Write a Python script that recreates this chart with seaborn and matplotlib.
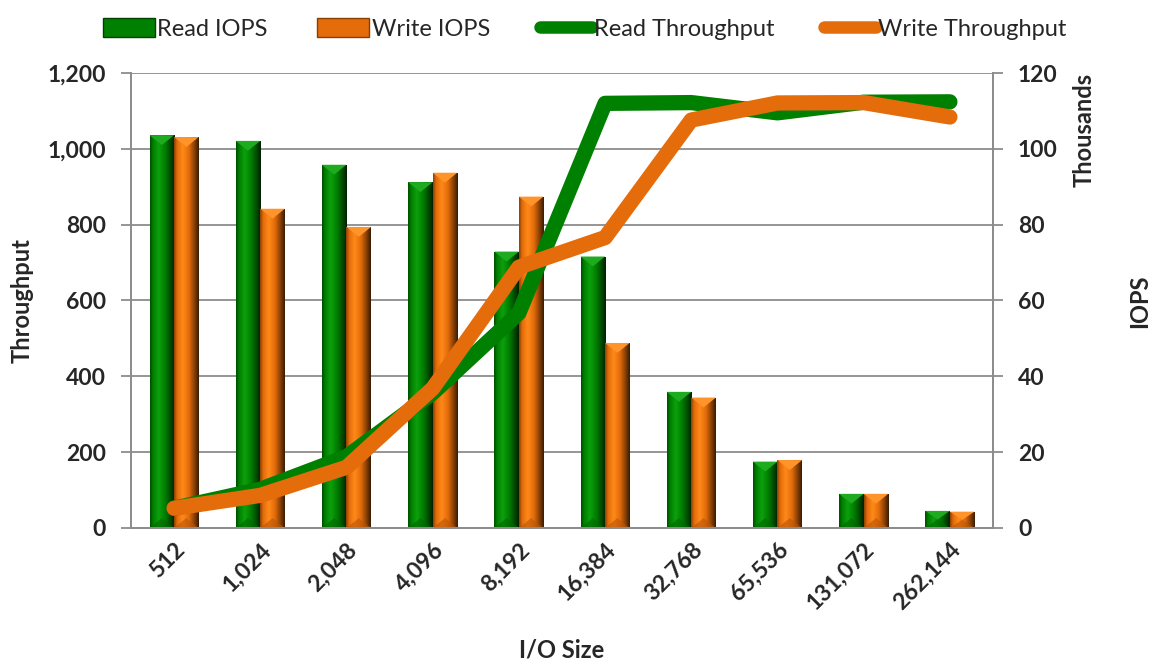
import numpy as np
import pandas as pd
import matplotlib
matplotlib.use('Agg')
import matplotlib.pyplot as plt
from matplotlib.colors import LinearSegmentedColormap
from matplotlib.lines import Line2D
from matplotlib.patches import Patch, Polygon
from matplotlib.ticker import FuncFormatter, MultipleLocator
import seaborn as sns

io_sizes = ['512', '1,024', '2,048', '4,096', '8,192', '16,384', '32,768', '65,536', '131,072', '262,144']
read_iops = [103600, 102100, 95800, 91200, 72900, 71600, 35900, 17500, 9000, 4500]
write_iops = [103100, 84200, 79400, 93700, 87400, 48800, 34400, 17900, 9000, 4300]
read_tput = [52, 102, 188, 356, 567, 1120, 1122, 1095, 1123, 1124]
write_tput = [52, 86, 160, 368, 688, 766, 1076, 1121, 1122, 1084]

green = '#008000'
orange = '#E46C0A'

sns.set_style('white')
plt.rcParams['font.family'] = ['Lato', 'DejaVu Sans']

bars = pd.DataFrame({
    'size': io_sizes * 2,
    'iops': read_iops + write_iops,
    'kind': ['Read IOPS'] * 10 + ['Write IOPS'] * 10,
})

fig = plt.figure(figsize=(11.56, 6.70), dpi=100)
ax = fig.add_axes([0.1133, 0.212, 0.7457, 0.679])
ax2 = ax.twinx()

# bars on the right (IOPS) axis, drawn underneath the lines
ax2.set_zorder(1)
ax.set_zorder(2)
ax.patch.set_visible(False)

sns.barplot(data=bars, x='size', y='iops', hue='kind', order=io_sizes,
            palette=[green, orange], width=0.57, ax=ax2, legend=False,
            saturation=1, edgecolor='none')

# fake the bevel look with a horizontal gradient inside every bar
def shade(base):
    c = np.array(matplotlib.colors.to_rgb(base))
    dark = c * 0.25
    light = np.clip(c * 1.15 + 0.05, 0, 1)
    return LinearSegmentedColormap.from_list('b', [(0, c * 0.6), (0.12, c), (0.35, light), (0.6, c), (0.85, c * 0.55), (1, dark)])

grad = np.linspace(0, 1, 64).reshape(1, -1)
bevel = 2600  # depth of the top bevel, in IOPS units
for p in list(ax2.patches):
    x0, y0 = p.get_x(), p.get_y()
    w, h = p.get_width(), p.get_height()
    if h <= 0:
        continue
    base = np.array(matplotlib.colors.to_rgb(p.get_facecolor()))
    im = ax2.imshow(grad, cmap=shade(base), extent=[x0, x0 + w, y0, y0 + h],
                    aspect='auto', zorder=p.get_zorder() + 0.1, interpolation='bicubic')
    im.set_clip_path(p)
    top = y0 + h
    d = min(bevel, h / 2)
    ax2.add_patch(Polygon([[x0, top], [x0 + w, top], [x0 + w / 2, top - d]],
                          closed=True, facecolor=np.clip(base * 1.1 + 0.12, 0, 1),
                          edgecolor='none', zorder=p.get_zorder() + 0.2))
    ax2.add_patch(Polygon([[x0, y0], [x0 + w, y0], [x0 + w / 2, y0 + d]],
                          closed=True, facecolor=base * 0.8,
                          edgecolor='none', alpha=0.6, zorder=p.get_zorder() + 0.2))

ax2.set_xlim(-0.5, 9.5)
ax2.set_ylim(0, 120000)
ax2.yaxis.set_major_locator(MultipleLocator(20000))
ax2.yaxis.set_major_formatter(FuncFormatter(lambda v, _: f'{v/1000:.0f}'))
ax2.set_ylabel('')
ax2.set_xlabel('')
ax2.grid(axis='y', color='#8c8c8c', lw=1.3)
ax2.set_axisbelow(True)

x = np.arange(len(io_sizes))
sns.lineplot(x=x, y=read_tput, color=green, lw=11, ax=ax,
             solid_capstyle='round', solid_joinstyle='round')
sns.lineplot(x=x, y=write_tput, color=orange, lw=11, ax=ax,
             solid_capstyle='round', solid_joinstyle='round')
ax.set_xlim(-0.5, 9.5)
ax.set_ylim(0, 1200)
ax.yaxis.set_major_locator(MultipleLocator(200))
ax.yaxis.set_major_formatter(FuncFormatter(lambda v, _: f'{v:,.0f}'))
ax.set_xticks(x)
ax.set_xticklabels(io_sizes)

for a in (ax, ax2):
    for s in a.spines.values():
        s.set_color('#8c8c8c')
        s.set_linewidth(1.3)
    a.spines['top'].set_visible(False)
    a.tick_params(axis='y', length=7, width=1.3, color='#8c8c8c', labelsize=16.5, pad=11)
ax2.tick_params(axis='x', length=0, labelbottom=False)
ax.tick_params(axis='x', length=0, labelsize=16.5, pad=8)
for t in ax.get_xticklabels():
    t.set_rotation(45)
    t.set_ha('right')
    t.set_rotation_mode('anchor')
    t.set_fontweight('bold')
for t in ax.get_yticklabels() + ax2.get_yticklabels():
    t.set_fontweight('bold')

ax.set_ylabel('Throughput', fontsize=17, fontweight='bold', labelpad=10)
ax.set_xlabel('I/O Size', fontsize=17, fontweight='bold', labelpad=18)
fig.text(0.938, 0.891, 'Thousands', rotation=90, ha='center', va='top', fontsize=17, fontweight='bold')
fig.text(0.986, 0.55, 'IOPS', rotation=90, ha='center', va='center', fontsize=17, fontweight='bold')

handles = [
    Patch(facecolor=green, edgecolor='#004000'),
    Patch(facecolor=orange, edgecolor='#8a3e00'),
    Line2D([], [], color=green, lw=9, solid_capstyle='round'),
    Line2D([], [], color=orange, lw=9, solid_capstyle='round'),
]
labels = ['Read IOPS', 'Write IOPS', 'Read Throughput', 'Write Throughput']
fig.legend(handles, labels, loc='upper center', bbox_to_anchor=(0.506, 1.005), ncol=4,
           frameon=False, fontsize=17, handlelength=2.2, handleheight=0.9,
           handletextpad=0.1, columnspacing=2.1)

fig.savefig('out.png', dpi=100)
